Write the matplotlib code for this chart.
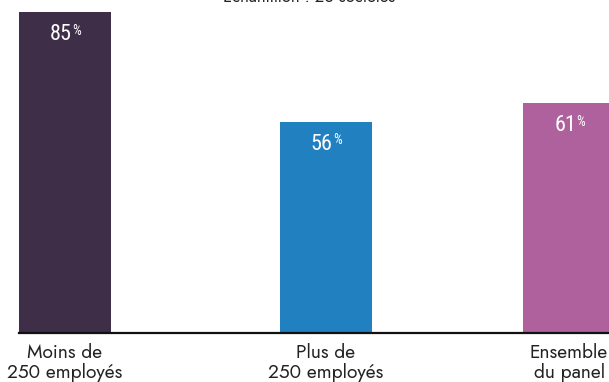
import matplotlib
matplotlib.use("Agg")
import matplotlib.pyplot as plt

categories = ["Moins de\n250 employés", "Plus de\n250 employés", "Ensemble\ndu panel"]
values = [85, 56, 61]
colors = ["#3F2E47", "#2180BF", "#AE619C"]
note = "Échantillon : 26 sociétés"

# layout
xpos = [0, 1, 1.935]
W, H = 609, 382
unit = 260.5
fig = plt.figure(figsize=(W / 100, H / 100), dpi=100)
ax = fig.add_axes([19 / W, 49 / H, 1 - 19 / W, 333 / H])

bars = ax.bar(xpos, values, width=92 / unit, color=colors, align="center")
ax.set_xlim(-46 / unit, (609 - 65) / unit)
ax.set_ylim(0, 333 / 3.776)

for s in ["top", "right", "left"]:
    ax.spines[s].set_visible(False)
ax.spines["bottom"].set_linewidth(1.6)
ax.spines["bottom"].set_color("#111111")
ax.set_yticks([])
ax.set_xticks(xpos)
ax.set_xticklabels(categories, fontsize=13.8, family=["Jost", "Lato", "DejaVu Sans"],
                   color="#222222", linespacing=1.08)
ax.tick_params(axis="x", length=0, pad=7)

numfont = ["Roboto Condensed", "Asap Condensed", "DejaVu Sans"]
for xi, v in zip(xpos, values):
    ax.annotate(f"{v}", xy=(xi, v), xytext=(5, -16.2), textcoords="offset points",
                ha="right", va="center", color="white", fontsize=16, family=numfont)
    ax.annotate("%", xy=(xi, v), xytext=(5.3, -13.6), textcoords="offset points",
                ha="left", va="center", color="white", fontsize=10, family=numfont)

fig.text(309 / W, (H - 1.5) / H, note, ha="center", va="baseline", fontsize=12,
         family=["Jost", "Lato", "DejaVu Sans"], color="#222222")

fig.savefig("out.png", dpi=100)
